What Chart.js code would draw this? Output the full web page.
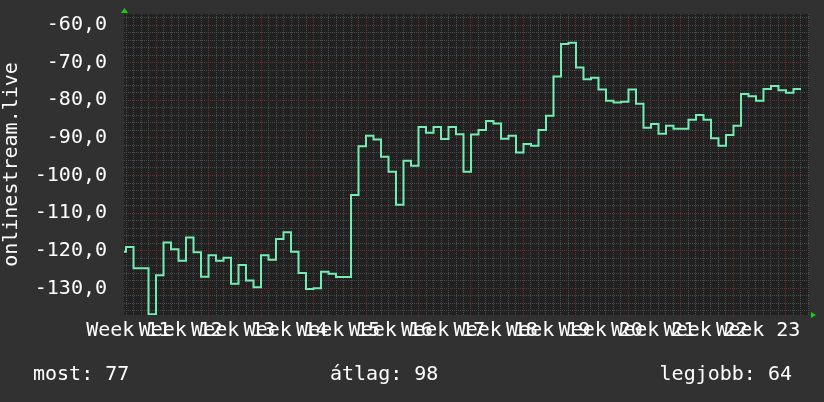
<!DOCTYPE html>
<html>
<head>
<meta charset="utf-8">
<title>onlinestream.live</title>
<script src="https://cdn.jsdelivr.net/npm/chart.js@4.4.1/dist/chart.umd.min.js"></script>
<style>
  html, body { margin: 0; padding: 0; background: #313131; }
  canvas { display: block; }
</style>
</head>
<body>
<canvas id="rrd" width="824" height="402"></canvas>
<script>
// daily values, first entry is the day 5 days before the Week 12 boundary
const firstDay = -5;
const dailyValues = [
  -120.3, -119.0, -124.7, -124.7, -136.9,
  -126.5, -117.8, -119.6, -122.7, -116.5, -120.4, -126.9,
  -121.2, -122.7, -121.9, -128.8, -123.8, -127.9, -129.7,
  -121.2, -122.4, -116.9, -115.1, -120.3, -125.9, -130.2,
  -130.0, -125.6, -126.1, -127.0, -127.0, -105.2, -92.2,
  -89.4, -90.4, -95.0, -99.0, -107.8, -96.1, -97.4,
  -87.1, -88.6, -87.1, -90.3, -87.1, -89.0, -99.0,
  -89.1, -87.9, -85.5, -86.2, -90.2, -89.4, -93.9,
  -91.6, -92.1, -87.9, -84.1, -73.7, -65.0, -64.7,
  -71.3, -74.4, -74.0, -77.1, -80.1, -80.6, -80.4,
  -77.1, -80.9, -87.3, -86.3, -88.9, -86.8, -87.6,
  -87.6, -85.2, -83.9, -85.2, -90.1, -92.1, -89.2,
  -86.8, -78.3, -78.9, -80.1, -77.0, -76.2, -77.3,
  -78.0, -77.0
];
const weekLabels = ['Week 11', 'Week 12', 'Week 13', 'Week 14', 'Week 15', 'Week 16', 'Week 17',
                    'Week 18', 'Week 19', 'Week 20', 'Week 21', 'Week 22', 'Week 23'];
const yTickLabels = [-60, -70, -80, -90, -100, -110, -120, -130];
const legendTexts = ['most: 77', 'átlag: 98', 'legjobb: 64'];

const X_MIN = -4.27, X_MAX = 87.07;
const Y_MIN = -137.1, Y_MAX = -57.05;
const FONT = "'DejaVu Sans Mono', monospace";
const MAJOR = '#6c2f2f';
const MINOR = '#4b4b4b';

const points = dailyValues.map((v, i) => ({ x: firstDay + i, y: v }));
// hold the last value for its whole day
points.push({ x: firstDay + dailyValues.length, y: dailyValues[dailyValues.length - 1] });

const isLabelTick = v => Math.abs(v - Math.round(v)) > 0.01;

const rrdDecor = {
    id: 'rrdDecor',
    beforeDraw(chart) {
        const { ctx, chartArea: a } = chart;
        ctx.save();
        ctx.fillStyle = '#313131';
        ctx.fillRect(0, 0, chart.width, chart.height);
        ctx.fillStyle = '#212121';
        ctx.fillRect(a.left, a.top, a.right - a.left, a.bottom - a.top);
        ctx.restore();
    },
    afterDraw(chart) {
        const { ctx, chartArea: a } = chart;
        ctx.save();
        // axis arrows
        ctx.fillStyle = '#14d014';
        ctx.beginPath();
        ctx.moveTo(a.left - 3, a.top - 1);
        ctx.lineTo(a.left + 4, a.top - 1);
        ctx.lineTo(a.left + 0.5, a.top - 6);
        ctx.closePath();
        ctx.fill();
        ctx.beginPath();
        ctx.moveTo(a.right + 2, a.bottom - 3);
        ctx.lineTo(a.right + 2, a.bottom + 3);
        ctx.lineTo(a.right + 7, a.bottom);
        ctx.closePath();
        ctx.fill();

        // legend line
        ctx.fillStyle = '#ffffff';
        ctx.font = '20px ' + FONT;
        ctx.textBaseline = 'middle';
        ctx.textAlign = 'left';
        ctx.fillText(legendTexts[0], 33, 375);
        ctx.fillText(legendTexts[1], 330, 375);
        ctx.textAlign = 'right';
        ctx.fillText(legendTexts[2], 792, 375);
        ctx.restore();
    }
};

new Chart(document.getElementById('rrd').getContext('2d'), {
    type: 'line',
    data: {
        datasets: [{
            label: 'onlinestream.live',
            data: points,
            stepped: true,
            borderColor: '#74ecb4',
            borderWidth: 2,
            pointRadius: 0,
            fill: false
        }]
    },
    options: {
        responsive: false,
        animation: false,
        devicePixelRatio: 1,
        layout: { padding: { top: 14, right: 15, left: 0, bottom: 0 } },
        scales: {
            x: {
                type: 'linear',
                min: X_MIN,
                max: X_MAX,
                afterBuildTicks(scale) {
                    const t = [];
                    for (let d = Math.ceil(X_MIN); d <= X_MAX; d++) t.push(d);
                    weekLabels.forEach((_, k) => t.push(-3.7 + 7 * k));
                    t.sort((a, b) => a - b);
                    scale.ticks = t.map(v => ({ value: v }));
                },
                afterFit(scale) {
                    scale.height = 87;
                    scale.paddingLeft = 0;
                    scale.paddingRight = 0;
                },
                ticks: {
                    autoSkip: false,
                    maxRotation: 0,
                    minRotation: 0,
                    padding: 4,
                    color: '#ffffff',
                    font: { family: FONT, size: 20 },
                    callback(value) {
                        if (!isLabelTick(value)) return '';
                        return weekLabels[Math.round((value + 3.7) / 7)];
                    }
                },
                grid: {
                    drawTicks: false,
                    lineWidth: 1,
                    color(ctx) {
                        const v = ctx.tick ? ctx.tick.value : 0;
                        if (isLabelTick(v)) return 'rgba(0,0,0,0)';
                        return Math.round(v) % 7 === 0 ? MAJOR : MINOR;
                    }
                },
                border: { display: false, dash: [1, 1] }
            },
            y: {
                min: Y_MIN,
                max: Y_MAX,
                afterBuildTicks(scale) {
                    const t = [];
                    for (let v = -136; v <= -58; v += 2) t.push({ value: v });
                    scale.ticks = t;
                },
                afterFit(scale) {
                    scale.width = 124;
                    scale.paddingTop = 0;
                    scale.paddingBottom = 0;
                },
                ticks: {
                    autoSkip: false,
                    padding: 17,
                    color: '#ffffff',
                    font: { family: FONT, size: 20 },
                    callback(value) {
                        return yTickLabels.includes(value) ? value.toFixed(1).replace('.', ',') : '';
                    }
                },
                grid: {
                    drawTicks: false,
                    lineWidth: 1,
                    color(ctx) {
                        const v = ctx.tick ? ctx.tick.value : 0;
                        return v % 10 === 0 ? MAJOR : MINOR;
                    }
                },
                border: { display: false, dash: [1, 1] },
                title: {
                    display: true,
                    text: 'onlinestream.live',
                    color: '#ffffff',
                    font: { family: FONT, size: 20 },
                    padding: 0
                }
            }
        },
        plugins: {
            legend: { display: false },
            tooltip: { enabled: false }
        }
    },
    plugins: [rrdDecor]
});
</script>
</body>
</html>
